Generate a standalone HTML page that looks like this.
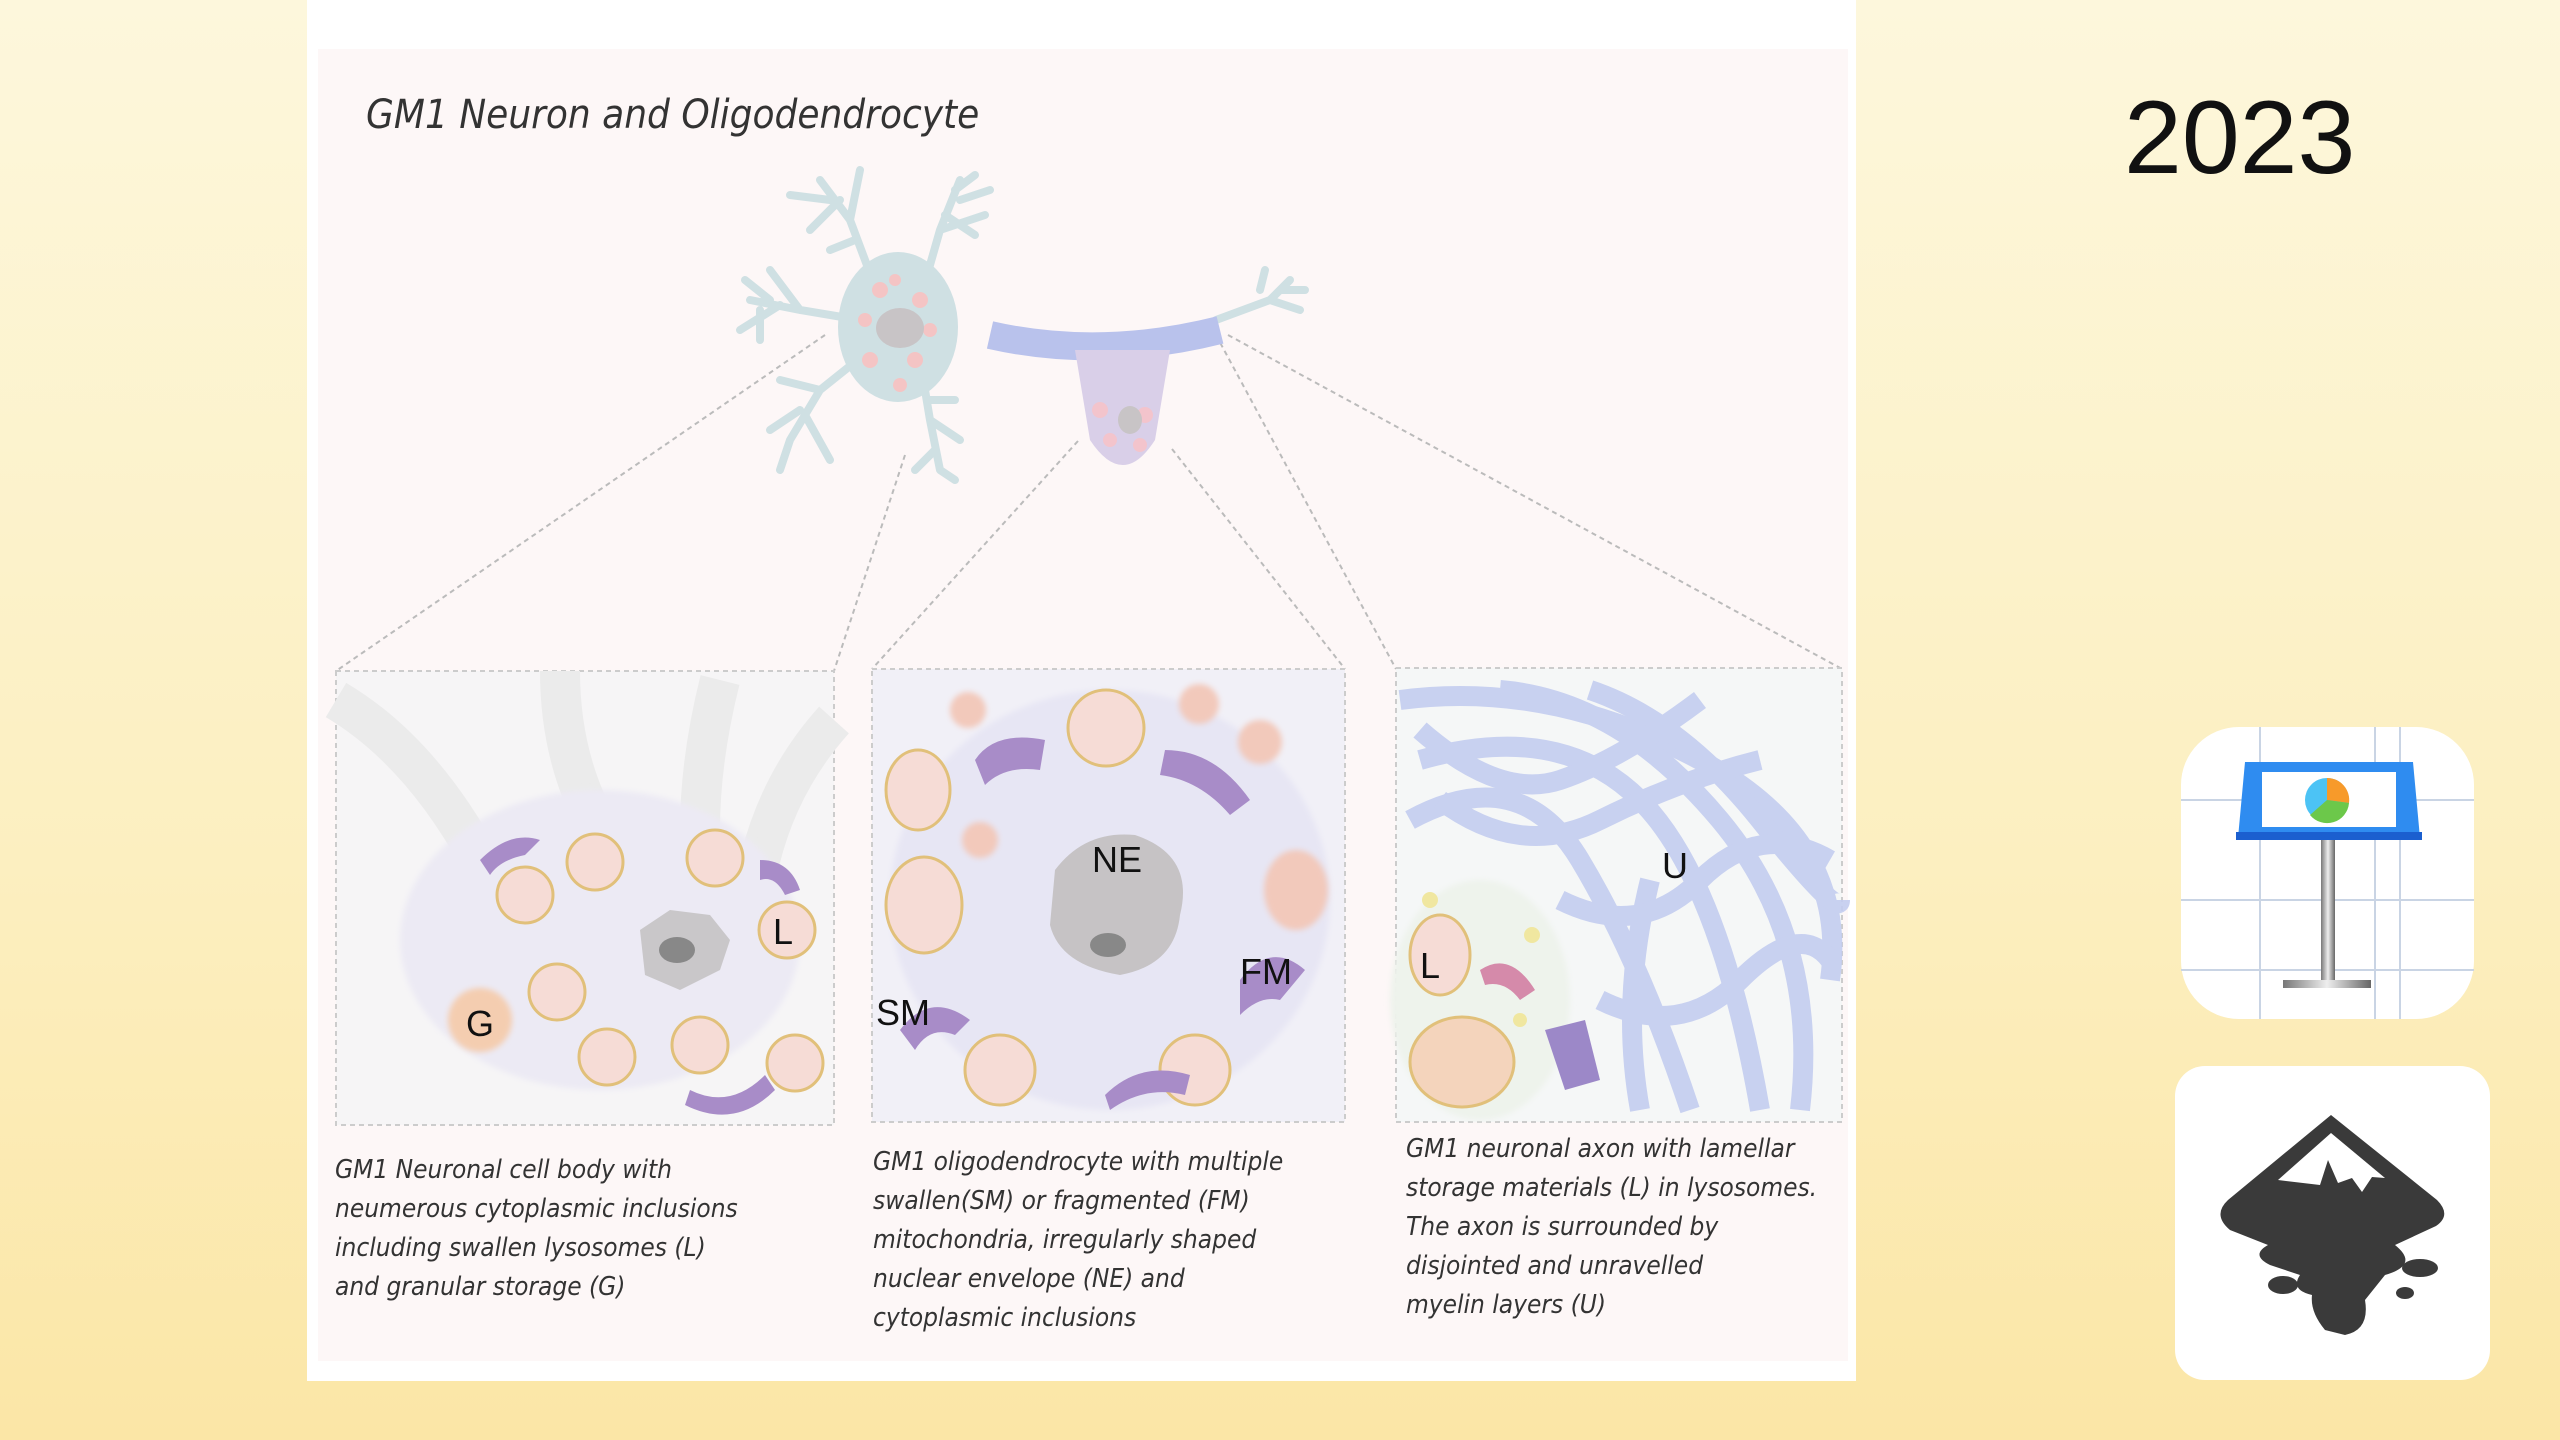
<!DOCTYPE html>
<html><head><meta charset="utf-8"><style>
html,body{margin:0;padding:0;width:2560px;height:1440px;overflow:hidden}
body{background:linear-gradient(180deg,#fdf7dc 0%,#fcefc0 60%,#fbe6a6 100%);font-family:"Liberation Sans",sans-serif}
svg{position:absolute;left:0;top:0}
.h{font-family:"DejaVu Sans Condensed","DejaVu Sans","Liberation Sans",sans-serif;font-style:italic;fill:#333}
.lab{font-family:"Liberation Sans",sans-serif;fill:#111;font-size:36px}
</style></head><body>
<svg width="2560" height="1440" viewBox="0 0 2560 1440">
<defs>
<filter id="b"><feGaussianBlur stdDeviation="3"/></filter>
<linearGradient id="pole" x1="0" x2="1"><stop offset="0" stop-color="#777"/><stop offset=".5" stop-color="#eee"/><stop offset="1" stop-color="#666"/></linearGradient>
</defs>
<rect x="307" y="0" width="1549" height="1381" fill="#fff"/>
<rect x="318" y="49" width="1530" height="1312" fill="#fdf7f7"/>
<text x="366" y="128" class="h" font-size="40">GM1 Neuron and Oligodendrocyte</text>
<g stroke="#bbb" stroke-width="2" stroke-dasharray="5,4" fill="none">
<line x1="825" y1="335" x2="336" y2="671"/>
<line x1="905" y1="455" x2="834" y2="671"/>
<line x1="1078" y1="441" x2="872" y2="669"/>
<line x1="1172" y1="449" x2="1345" y2="669"/>
<line x1="1216" y1="335" x2="1396" y2="669"/>
<line x1="1228" y1="335" x2="1842" y2="669"/>
</g>
<g stroke="#cfe0e3" stroke-width="8" stroke-linecap="round" fill="none">
<path d="M880 300 L850 220 L820 180 M850 220 L860 170 M830 200 L790 195 M840 200 L810 230 M855 240 L830 250"/>
<path d="M920 300 L940 230 L960 180 M940 230 L985 215 M955 190 L975 175 M945 215 L975 235 M960 200 L990 190"/>
<path d="M860 320 L800 310 L750 300 M800 310 L770 270 M780 305 L740 330 M770 300 L745 280 M760 310 L760 340"/>
<path d="M870 350 L820 390 L790 440 M820 390 L780 380 M805 415 L830 460 M800 410 L770 430 M790 440 L780 470"/>
<path d="M920 360 L930 420 L940 470 M930 420 L960 440 M935 450 L915 470 M930 400 L955 400 M940 470 L955 480"/>
<path d="M1216 320 L1270 300 L1290 280 M1270 300 L1300 310 M1260 290 L1265 270 M1280 290 L1305 290"/>
</g>
<ellipse cx="898" cy="327" rx="60" ry="75" fill="#cfe0e3"/>
<g fill="#f4c4c4"><circle cx="880" cy="290" r="8"/><circle cx="920" cy="300" r="8"/><circle cx="870" cy="360" r="8"/><circle cx="915" cy="360" r="8"/><circle cx="930" cy="330" r="7"/><circle cx="865" cy="320" r="7"/><circle cx="895" cy="280" r="6"/><circle cx="900" cy="385" r="7"/></g>
<ellipse cx="900" cy="328" rx="24" ry="20" fill="#c8c4c6"/>
<path d="M990 335 Q1100 360 1220 330" stroke="#b9c2ec" stroke-width="28" fill="none"/>
<path d="M1075 350 L1170 350 L1155 440 Q1123 490 1090 440 Z" fill="#d9cfe8"/>
<g fill="#f3c4cc"><circle cx="1100" cy="410" r="8"/><circle cx="1145" cy="415" r="8"/><circle cx="1110" cy="440" r="7"/><circle cx="1140" cy="445" r="7"/></g>
<ellipse cx="1130" cy="420" rx="12" ry="14" fill="#c8c4c6"/>
<!-- panel 1 -->
<rect x="336" y="671" width="498" height="454" fill="#f6f5f6" stroke="#ccc" stroke-width="2" stroke-dasharray="5,4"/>
<g stroke="#ebebeb" stroke-width="40" fill="none"><path d="M336 700 Q420 750 480 860"/><path d="M560 671 Q560 760 600 830"/><path d="M720 680 Q700 760 700 830"/><path d="M834 720 Q780 780 760 860"/></g>
<ellipse cx="600" cy="940" rx="200" ry="150" fill="#eceaf4" filter="url(#b)"/>
<path d="M640 930 l30-20 40 5 20 25-10 30-40 20-35-15z" fill="#c9c7c9"/>
<ellipse cx="677" cy="950" rx="18" ry="13" fill="#888"/>
<g stroke="#e1c07a" stroke-width="3" fill="#f6dcd6">
<circle cx="525" cy="895" r="28"/><circle cx="595" cy="862" r="28"/><circle cx="715" cy="858" r="28"/><circle cx="787" cy="930" r="28"/><circle cx="557" cy="992" r="28"/><circle cx="607" cy="1057" r="28"/><circle cx="700" cy="1045" r="28"/><circle cx="795" cy="1063" r="28"/></g>
<circle cx="480" cy="1020" r="32" fill="#f4cdb0" filter="url(#b)"/>
<g fill="#a88cc8"><path d="M480 860 q30-30 60-20 l-15 15 q-25 5 -35 20z"/><path d="M760 860 q30 0 40 30 l-15 5 q-10-20 -25-15z"/><path d="M690 1090 q40 20 75-15 l10 15 q-40 40 -90 15z"/></g>
<text x="466" y="1036" class="lab">G</text><text x="773" y="944" class="lab">L</text>
<!-- panel 2 -->
<rect x="872" y="669" width="473" height="453" fill="#f1f0f7" stroke="#ccc" stroke-width="2" stroke-dasharray="5,4"/>
<ellipse cx="1110" cy="900" rx="220" ry="210" fill="#e7e6f4" filter="url(#b)"/>
<path d="M1055 870 q30-40 80-35 q60 20 45 80 q-5 50 -60 60 q-60-10 -70-50z" fill="#c6c3c5"/>
<ellipse cx="1108" cy="945" rx="18" ry="12" fill="#888"/>
<g stroke="#e1c07a" stroke-width="3" fill="#f6dcd6">
<ellipse cx="918" cy="790" rx="32" ry="40"/><ellipse cx="924" cy="905" rx="38" ry="48"/><circle cx="1106" cy="728" r="38"/><circle cx="1000" cy="1070" r="35"/><circle cx="1195" cy="1070" r="35"/></g>
<g fill="#f2c9bb" filter="url(#b)"><circle cx="968" cy="710" r="18"/><circle cx="1199" cy="704" r="20"/><circle cx="1260" cy="742" r="22"/><ellipse cx="1296" cy="890" rx="32" ry="40"/><circle cx="980" cy="840" r="18"/></g>
<g fill="#a88cc8"><path d="M975 760 q20-30 70-20 l-5 30 q-35-5 -55 15z"/><path d="M1165 750 q50 0 85 50 l-20 15 q-30-35 -70-40z"/><path d="M1105 1095 q35-35 85-20 l-5 20 q-40-10 -75 15z"/><path d="M1240 980 q30-40 65-10 l-25 30 q-20-5 -40 15z"/><path d="M900 1030 q30-40 70-10 l-15 15 q-25-10 -40 15z"/></g>
<text x="1092" y="872" class="lab">NE</text><text x="876" y="1025" class="lab">SM</text><text x="1240" y="984" class="lab">FM</text>
<!-- panel 3 -->
<rect x="1396" y="668" width="446" height="454" fill="#f5f7f7" stroke="#ccc" stroke-width="2" stroke-dasharray="5,4"/>
<g stroke="#c4cdf0" stroke-width="20" fill="none" opacity=".9">
<path d="M1400 700 Q1550 680 1700 760 T1830 980"/><path d="M1420 760 Q1560 720 1640 800 T1760 1110"/><path d="M1410 820 Q1520 760 1580 860 T1690 1110"/><path d="M1500 690 Q1620 700 1720 820 T1800 1110"/><path d="M1590 690 Q1680 720 1760 820 T1840 900"/><path d="M1650 880 Q1620 1000 1640 1110"/>
<path d="M1420 730 Q1500 800 1560 780 T1700 700"/><path d="M1440 800 Q1520 860 1600 820 T1760 760"/><path d="M1560 900 Q1640 940 1700 880 T1830 860"/><path d="M1600 1000 Q1680 1040 1740 980 T1830 960"/></g>
<ellipse cx="1480" cy="1000" rx="90" ry="120" fill="#eef3ec" filter="url(#b)"/>
<g stroke="#e1c07a" stroke-width="3" fill="#f6dcd6"><ellipse cx="1440" cy="955" rx="30" ry="40"/><ellipse cx="1462" cy="1062" rx="52" ry="45" fill="#f4d4bc"/></g>
<path d="M1480 970 q30-20 55 20 l-15 10 q-15-20 -35-15z" fill="#d58aaa"/>
<path d="M1545 1030 l40-10 15 60 -35 10z" fill="#9c88c8"/>
<g fill="#f0e7a0"><circle cx="1430" cy="900" r="8"/><circle cx="1532" cy="935" r="8"/><circle cx="1520" cy="1020" r="7"/></g>
<text x="1420" y="978" class="lab">L</text><text x="1662" y="878" class="lab">U</text>
<g class="h" font-size="26">
<text x="335" y="1178">GM1 Neuronal cell body with</text>
<text x="335" y="1217">neumerous  cytoplasmic inclusions</text>
<text x="335" y="1256">including swallen  lysosomes (L)</text>
<text x="335" y="1295">and granular storage (G)</text>
<text x="873" y="1170">GM1 oligodendrocyte with multiple</text>
<text x="873" y="1209">swallen(SM) or fragmented (FM)</text>
<text x="873" y="1248">mitochondria, irregularly shaped</text>
<text x="873" y="1287">nuclear envelope (NE) and</text>
<text x="873" y="1326">cytoplasmic inclusions</text>
<text x="1406" y="1157">GM1 neuronal axon with lamellar</text>
<text x="1406" y="1196">storage materials (L) in lysosomes.</text>
<text x="1406" y="1235">The axon is surrounded by</text>
<text x="1406" y="1274">disjointed and unravelled</text>
<text x="1406" y="1313">myelin layers (U)</text>
</g>
<text x="2124" y="173" font-family="Liberation Sans,sans-serif" font-size="104" fill="#111">2023</text>
<!-- keynote -->
<rect x="2181" y="727" width="293" height="292" rx="58" fill="#fff"/>
<g stroke="#c9d4e4" stroke-width="2" fill="none"><path d="M2260 727V1019M2375 727V1019M2181 800H2474M2181 900H2474M2181 970H2474M2400 727V1019"/></g>
<path d="M2245 762 H2413 L2420 838 H2238 Z" fill="#2f8cf0"/>
<rect x="2236" y="832" width="186" height="8" fill="#1b5fcf"/>
<rect x="2262" y="772" width="134" height="55" fill="#fff"/>
<circle cx="2327" cy="800" r="22" fill="#4cc3f5"/>
<path d="M2327 800 L2327 778 A22 22 0 0 1 2349 803 Z" fill="#f79a2a"/>
<path d="M2327 800 L2349 803 A22 22 0 0 1 2310 815 Z" fill="#6cc84a"/>
<rect x="2321" y="840" width="14" height="145" fill="url(#pole)"/>
<rect x="2283" y="980" width="88" height="8" fill="url(#pole)"/>
<!-- inkscape -->
<rect x="2175" y="1066" width="315" height="314" rx="30" fill="#fff"/>
<path d="M2331 1115 L2437 1200 Q2452 1215 2436 1226 L2395 1245 Q2420 1265 2385 1275 L2365 1300 Q2370 1330 2345 1335 L2325 1330 Q2310 1312 2312 1295 Q2290 1290 2300 1275 L2270 1265 Q2250 1255 2268 1245 L2230 1230 Q2212 1215 2228 1200 Z" fill="#3a3a3a"/>
<path d="M2331 1133 L2385 1178 L2372 1177 L2362 1192 L2352 1178 L2338 1183 L2328 1160 L2320 1185 L2278 1180 Z" fill="#fff"/>
<ellipse cx="2283" cy="1285" rx="15" ry="9" fill="#3a3a3a"/>
<ellipse cx="2420" cy="1268" rx="18" ry="9" fill="#3a3a3a"/>
<ellipse cx="2405" cy="1293" rx="9" ry="6" fill="#3a3a3a"/>
</svg>
</body></html>
